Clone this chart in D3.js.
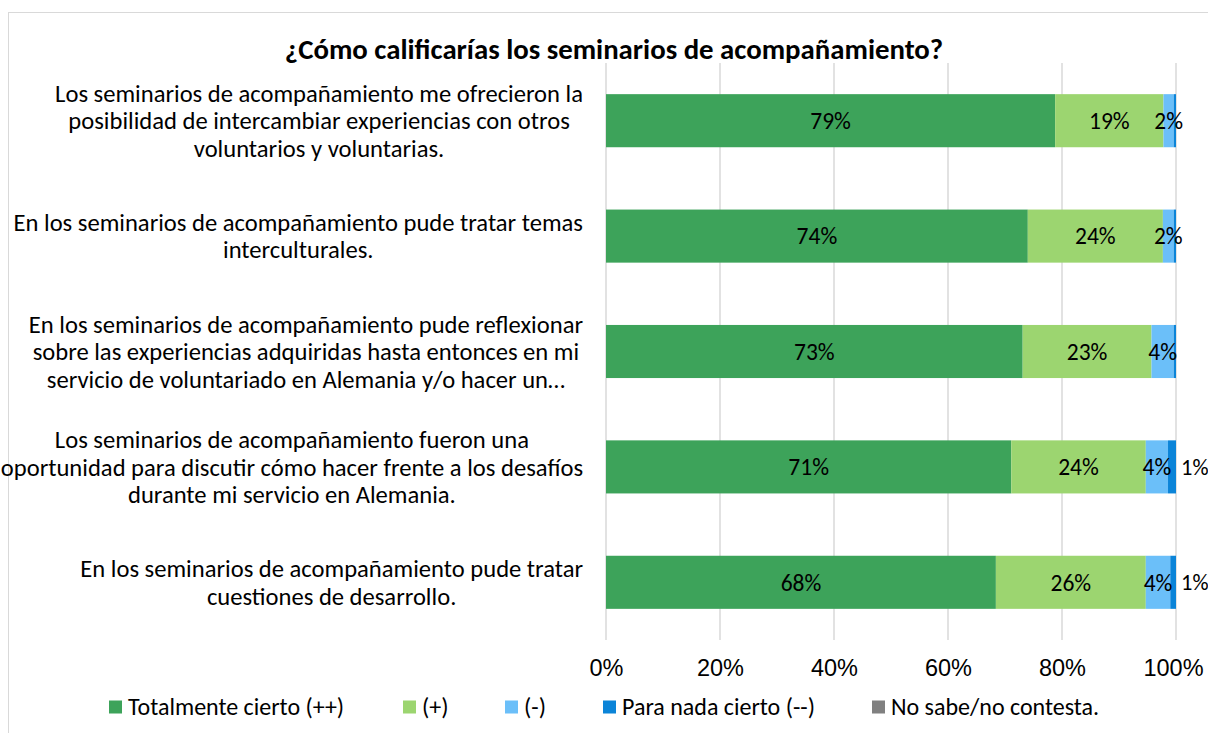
<!DOCTYPE html>
<html>
<head>
<meta charset="utf-8">
<script src="https://cdn.jsdelivr.net/npm/d3@7"></script>
<style>
  body { margin: 0; background: #fff; }
  svg { display: block; font-family: Carlito, Calibri, Lato, sans-serif; }
</style>
</head>
<body>
<svg id="chart" width="1208" height="733"></svg>
<script>
// datos
var titulo = "¿Cómo calificarías los seminarios de acompañamiento?";
var categorias = [
  "Los seminarios de acompañamiento me ofrecieron la\nposibilidad de intercambiar experiencias con otros\nvoluntarios y voluntarias.",
  "En los seminarios de acompañamiento pude tratar temas\ninterculturales.",
  "En los seminarios de acompañamiento pude reflexionar\nsobre las experiencias adquiridas hasta entonces en mi\nservicio de voluntariado en Alemania y/o hacer un…",
  "Los seminarios de acompañamiento fueron una\noportunidad para discutir cómo hacer frente a los desafíos\ndurante mi servicio en Alemania.",
  "En los seminarios de acompañamiento pude tratar\ncuestiones de desarrollo."
];
var series = ["Totalmente cierto (++)", "(+)", "(-)", "Para nada cierto (--)", "No sabe/no contesta."];
var totalmente = [78.8, 74.0, 73.1, 71.1, 68.4];
var mas = [19.0, 23.7, 22.6, 23.6, 26.3];
var menos = [1.8, 1.9, 3.9, 3.9, 4.3];
var paraNada = [0.4, 0.4, 0.4, 1.4, 1.0];
var noSabe = [0, 0, 0, 0, 0];
var ticks = [0, 20, 40, 60, 80, 100];

var colores = ["#3da35a", "#9cd570", "#6bbff9", "#0b84d8", "#808080"];
var fs = 24;

var filas = categorias.map(function(c, i) {
  return { cat: i, s0: totalmente[i], s1: mas[i], s2: menos[i], s3: paraNada[i], s4: noSabe[i] };
});

var svg = d3.select("#chart");

// marco
svg.append("rect")
  .attr("x", 8.5).attr("y", 12.5)
  .attr("width", 1400).attr("height", 900)
  .attr("fill", "#fff").attr("stroke", "#d9d9d9");

var x = d3.scaleLinear().domain([0, 100]).range([606, 1176]);
var y = d3.scaleBand().domain(d3.range(categorias.length)).range([63, 640])
  .paddingInner(0.54).paddingOuter(0.27);

// rejilla
svg.append("g")
  .selectAll("line")
  .data(ticks)
  .enter().append("line")
  .attr("x1", function(d) { return x(d); })
  .attr("x2", function(d) { return x(d); })
  .attr("y1", 63).attr("y2", 640)
  .attr("stroke", "#d9d9d9").attr("stroke-width", 1.5);

// eje x
var ejeX = svg.append("g")
  .attr("transform", "translate(0,640)")
  .call(d3.axisBottom(x).tickValues(ticks).tickSize(0)
    .tickFormat(function(d) { return d + "%"; }));
ejeX.select(".domain").remove();
ejeX.selectAll("text")
  .attr("font-family", null)
  .attr("x", function(d) { return d === 100 ? -3 : 0; })
  .attr("y", 28).attr("dy", "0.35em")
  .attr("font-size", fs - 0.5).attr("fill", "#000");

// barras
var keys = ["s0", "s1", "s2", "s3", "s4"];
var stack = d3.stack().keys(keys)(filas);

var grupos = svg.append("g").selectAll("g")
  .data(stack)
  .enter().append("g")
  .attr("fill", function(d, i) { return colores[i]; });

grupos.selectAll("rect")
  .data(function(d) { return d; })
  .enter().append("rect")
  .attr("x", function(d) { return x(d[0]); })
  .attr("y", function(d) { return y(d.data.cat); })
  .attr("width", function(d) { return x(d[1]) - x(d[0]); })
  .attr("height", y.bandwidth());

// etiquetas de datos
stack.forEach(function(capa, k) {
  svg.append("g").selectAll("text")
    .data(capa.filter(function(d) { return Math.round(d[1] - d[0]) >= 1; }))
    .enter().append("text")
    .attr("x", function(d) {
      return k === 3 ? x(d[1]) + 5 : (x(d[0]) + x(d[1])) / 2;
    })
    .attr("y", function(d) { return y(d.data.cat) + y.bandwidth() / 2; })
    .attr("dy", "0.35em")
    .attr("text-anchor", k === 3 ? "start" : "middle")
    .attr("font-size", k === 3 ? fs - 1.5 : fs - 0.5)
    .attr("fill", "#000")
    .text(function(d) { return Math.round(d[1] - d[0]) + "%"; });
});

// etiquetas de categoria
var lineH = 27.5;
categorias.forEach(function(c, i) {
  var lineas = c.split("\n");
  var g = svg.append("g");
  var cy = y(i) + y.bandwidth() / 2;
  var t = g.selectAll("text")
    .data(lineas)
    .enter().append("text")
    .attr("y", function(d, j) { return cy + (j - (lineas.length - 1) / 2) * lineH; })
    .attr("dy", "0.35em")
    .attr("text-anchor", "middle")
    .attr("font-size", fs + 0.6)
    .attr("fill", "#000")
    .text(function(d) { return d; });
  var ancho = d3.max(t.nodes(), function(n) { return n.getComputedTextLength(); });
  t.attr("x", 583 - ancho / 2);
});

// titulo
svg.append("text")
  .attr("x", 614).attr("y", 49)
  .attr("dy", "0.35em")
  .attr("text-anchor", "middle")
  .attr("font-size", 28.8).attr("font-weight", "bold")
  .attr("fill", "#000")
  .text(titulo);

// leyenda
var leyendaX = [109, 403, 505, 603, 872];
var leyenda = svg.append("g").selectAll("g")
  .data(series)
  .enter().append("g")
  .attr("transform", function(d, i) { return "translate(" + leyendaX[i] + ",707)"; });
leyenda.append("rect")
  .attr("x", 0).attr("y", -6.5)
  .attr("width", 13).attr("height", 13)
  .attr("fill", function(d, i) { return colores[i]; });
leyenda.append("text")
  .attr("x", 19).attr("dy", "0.35em")
  .attr("font-size", fs).attr("fill", "#000")
  .text(function(d) { return d; });
</script>
</body>
</html>
